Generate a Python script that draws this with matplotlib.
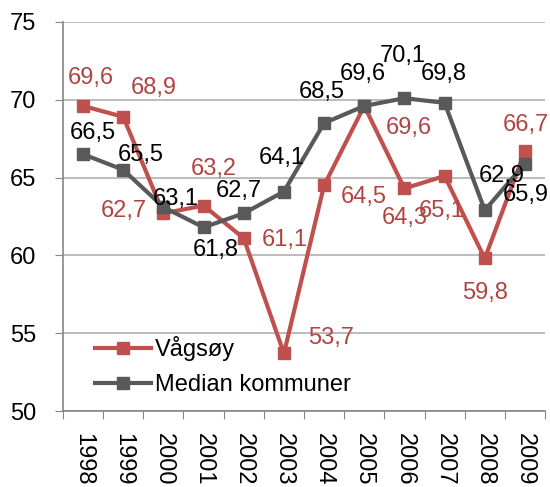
import matplotlib.pyplot as plt
import numpy as np

# --- Data ---
years = ['1998', '1999', '2000', '2001', '2002', '2003',
         '2004', '2005', '2006', '2007', '2008', '2009']
vagsoy = [69.6, 68.9, 62.7, 63.2, 61.1, 53.7, 64.5, 69.6, 64.3, 65.1, 59.8, 66.7]
median = [66.5, 65.5, 63.1, 61.8, 62.7, 64.1, 68.5, 69.6, 70.1, 69.8, 62.9, 65.9]

# label offsets in pixels (dx, dy) relative to each point
vagsoy_offsets = [(8, 28), (31, 29), (-40, 2), (10, 37), (41, -2), (47, 15),
                  (40, -12), (45, -22), (0, -30), (-3, -35), (0, -35), (1, 26)]
median_offsets = [(10, 21), (18, 15), (12, 8), (12, -23), (-5, 22), (-2, 34),
                  (-2, 31), (-1, 32), (-2, 42), (-1, 29), (17, 34), (1, -31)]

RED = '#C0504D'
RED_TEXT = '#B04440'
GRAY = '#595959'
FS = 17

plt.rcParams['font.family'] = ['Liberation Sans', 'DejaVu Sans']

fig = plt.figure(figsize=(5.5, 4.87), dpi=100)
ax = fig.add_axes([0.1145, 0.156, 0.8765, 0.799])

x = np.arange(len(years))

ax.plot(x, vagsoy, color=RED, lw=3, marker='s', markersize=8.5,
        label='Vågsøy', zorder=3)
ax.plot(x, median, color=GRAY, lw=3, marker='s', markersize=8.5,
        label='Median kommuner', zorder=4)

def fmt(v):
    return f'{v:.1f}'.replace('.', ',')

for xi, v, off in zip(x, vagsoy, vagsoy_offsets):
    ax.annotate(fmt(v), (xi, v), xytext=off, textcoords='offset pixels',
                ha='center', va='center', fontsize=FS, color=RED_TEXT, zorder=5)
for xi, v, off in zip(x, median, median_offsets):
    ax.annotate(fmt(v), (xi, v), xytext=off, textcoords='offset pixels',
                ha='center', va='center', fontsize=FS, color='black', zorder=5)

ax.set_xlim(-0.5, len(years) - 0.5)
ax.set_ylim(50, 75)
ax.set_yticks([50, 55, 60, 65, 70, 75])
ax.tick_params(axis='y', labelsize=FS, length=6, color='#868686', pad=13)

# ticks at category boundaries, labels at centers
ax.set_xticks(np.arange(-0.5, len(years), 1.0))
ax.set_xticklabels([])
ax.set_xticks(x, minor=True)
ax.set_xticklabels(years, minor=True, rotation=270, fontsize=FS)
ax.tick_params(axis='x', which='major', length=6, color='#868686')
ax.tick_params(axis='x', which='minor', length=0, pad=16)

ax.yaxis.grid(True, color='#B0B0B0', lw=1.2)
ax.set_axisbelow(True)
for s in ['top', 'right']:
    ax.spines[s].set_visible(False)
for s in ['left', 'bottom']:
    ax.spines[s].set_color('#868686')
    ax.spines[s].set_linewidth(1.2)

ax.legend(loc='center left', bbox_to_anchor=(0.066, 0.116), frameon=False,
          fontsize=FS, handlelength=2.4, handletextpad=0.15,
          labelspacing=0.55, borderpad=0, borderaxespad=0)

fig.savefig('out.png', dpi=100)
